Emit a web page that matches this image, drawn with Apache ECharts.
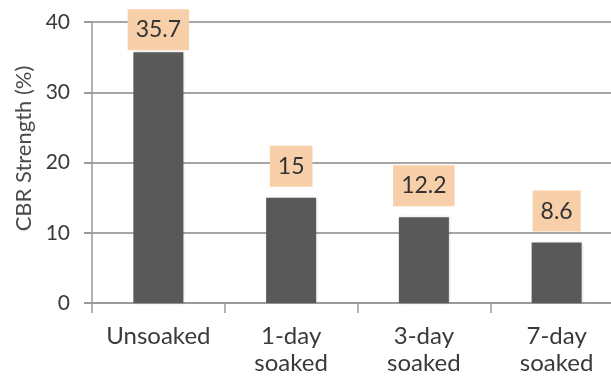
<!DOCTYPE html>
<html>
<head>
<meta charset="utf-8">
<script src="https://cdn.jsdelivr.net/npm/echarts@6/dist/echarts.min.js"></script>
<style>
  html, body { margin: 0; padding: 0; background: #fff; }
  #chart { width: 611px; height: 385px; }
</style>
</head>
<body>
<div id="chart"></div>
<script>
// CBR strength for each soaking condition
const categories = ['Unsoaked', '1-day\nsoaked', '3-day\nsoaked', '7-day\nsoaked'];
const cbrValues = [35.7, 15, 12.2, 8.6];
const yTicks = { min: 0, max: 40, interval: 10 };

const FONT = 'Lato, "Open Sans", sans-serif';
const chart = echarts.init(document.getElementById('chart'));

// the tallest bar's label sits tight against the top of the plot
const barData = cbrValues.map((v, i) => (
  i === 0 ? { value: v, label: { distance: 2 } } : v
));

chart.setOption({
  animation: false,
  backgroundColor: '#ffffff',
  grid: {
    left: 92, width: 531, top: 22, bottom: 82,
    containLabel: false, outerBoundsMode: 'none'
  },
  xAxis: {
    type: 'category',
    data: categories,
    axisLine: { lineStyle: { color: '#9a9a9a', width: 2 } },
    axisTick: { show: true, length: 10, lineStyle: { color: '#9a9a9a', width: 1.5 } },
    axisLabel: {
      interval: 0,
      color: '#3a3a3a', fontFamily: FONT, fontSize: 24, lineHeight: 27, margin: 20
    }
  },
  yAxis: {
    type: 'value',
    min: yTicks.min, max: yTicks.max, interval: yTicks.interval,
    name: 'CBR Strength (%)',
    nameLocation: 'middle',
    nameGap: 57,
    nameTextStyle: {
      color: '#4a4a4a', fontFamily: FONT, fontSize: 22, padding: [0, 0, 0, 28]
    },
    axisLine: { show: true, lineStyle: { color: '#9a9a9a', width: 1.5 } },
    axisTick: { show: true, length: 8, lineStyle: { color: '#9a9a9a', width: 2 } },
    splitLine: { lineStyle: { color: '#a6a6a6', width: 2 } },
    axisLabel: { color: '#3a3a3a', fontFamily: FONT, fontSize: 21, margin: 22 }
  },
  series: [{
    type: 'bar',
    data: barData,
    barWidth: 50,
    itemStyle: {
      color: '#595959',
      shadowColor: 'rgba(0,0,0,0.15)', shadowBlur: 3, shadowOffsetX: 1, shadowOffsetY: 0
    },
    label: {
      show: true,
      position: 'top',
      distance: 11,
      color: '#333333',
      fontFamily: FONT,
      fontSize: 23,
      lineHeight: 23,
      backgroundColor: '#f7cfa9',
      padding: [9, 8, 9, 8]
    }
  }]
});
</script>
</body>
</html>
